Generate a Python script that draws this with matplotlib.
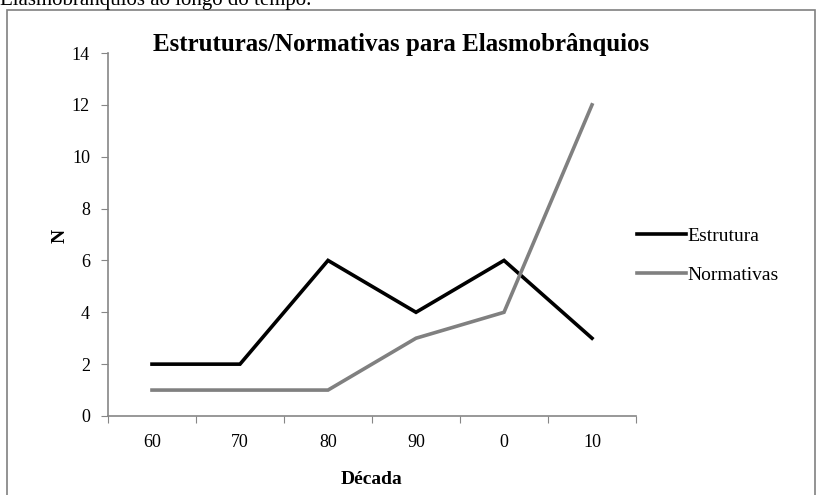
import matplotlib
matplotlib.use("Agg")
import matplotlib.pyplot as plt
from matplotlib.patches import Rectangle
import numpy as np

decadas = ["60", "70", "80", "90", "0", "10"]
estrutura = [2, 2, 6, 4, 6, 3]
normativas = [1, 1, 1, 3, 4, 12]
y_ticks = [0, 2, 4, 6, 8, 10, 12, 14]

plt.rcParams['font.family'] = ['Liberation Serif', 'DejaVu Serif']

W, H = 816, 495
fig = plt.figure(figsize=(W/100, H/100), dpi=100)
ax = fig.add_axes([108/W, 1-416/H, (636-108)/W, (416-53)/H])

x = np.arange(len(decadas)) + 0.5
ax.plot(x, estrutura, color='black', lw=2.6, label='Estrutura', solid_joinstyle='miter')
ax.plot(x, normativas, color='#808080', lw=2.6, label='Normativas', solid_joinstyle='miter')

ax.set_xlim(0, len(decadas))
ax.set_ylim(0, 14)
ax.set_yticks(y_ticks)
ax.set_xticks(np.arange(len(decadas)+1))
ax.set_xticklabels([])
ax.set_xticks(x, minor=True)
ax.set_xticklabels(decadas, minor=True)
ax.tick_params(axis='x', which='minor', length=0, pad=13, labelsize=13)
ax.tick_params(axis='x', which='major', length=5, color='#868686', direction='out')
ax.tick_params(axis='y', length=5, color='#868686', direction='out', labelsize=13, pad=8)
for s in ['top', 'right']:
    ax.spines[s].set_visible(False)
for s in ['left', 'bottom']:
    ax.spines[s].set_color('#868686')
    ax.spines[s].set_linewidth(1.2)

fig.text(401/W, 1-45/H, 'Estruturas/Normativas para Elasmobrânquios', ha='center', va='center',
         fontsize=18, fontweight='bold')
fig.text(60/W, 1-236/H, 'N', ha='center', va='center', rotation=90, fontsize=14, fontweight='bold')
fig.text(372/W, 1-479/H, 'Década', ha='center', va='center', fontsize=14, fontweight='bold')

fig.legend(loc='upper left', bbox_to_anchor=(637/W, 1-227/H), frameon=False, fontsize=14,
           handlelength=2.5, handletextpad=0.1, labelspacing=1.1, borderpad=0, borderaxespad=0)

fig.text(0, 1+0/H, 'Elasmobrânquios ao longo do tempo.', ha='left', va='center', fontsize=15)
fig.add_artist(Rectangle((7/W, -0.05), (815-7)/W, (1-10/H)+0.05, transform=fig.transFigure,
                         fill=False, edgecolor='#808080', lw=1.2))

fig.savefig('out.png', dpi=100)
